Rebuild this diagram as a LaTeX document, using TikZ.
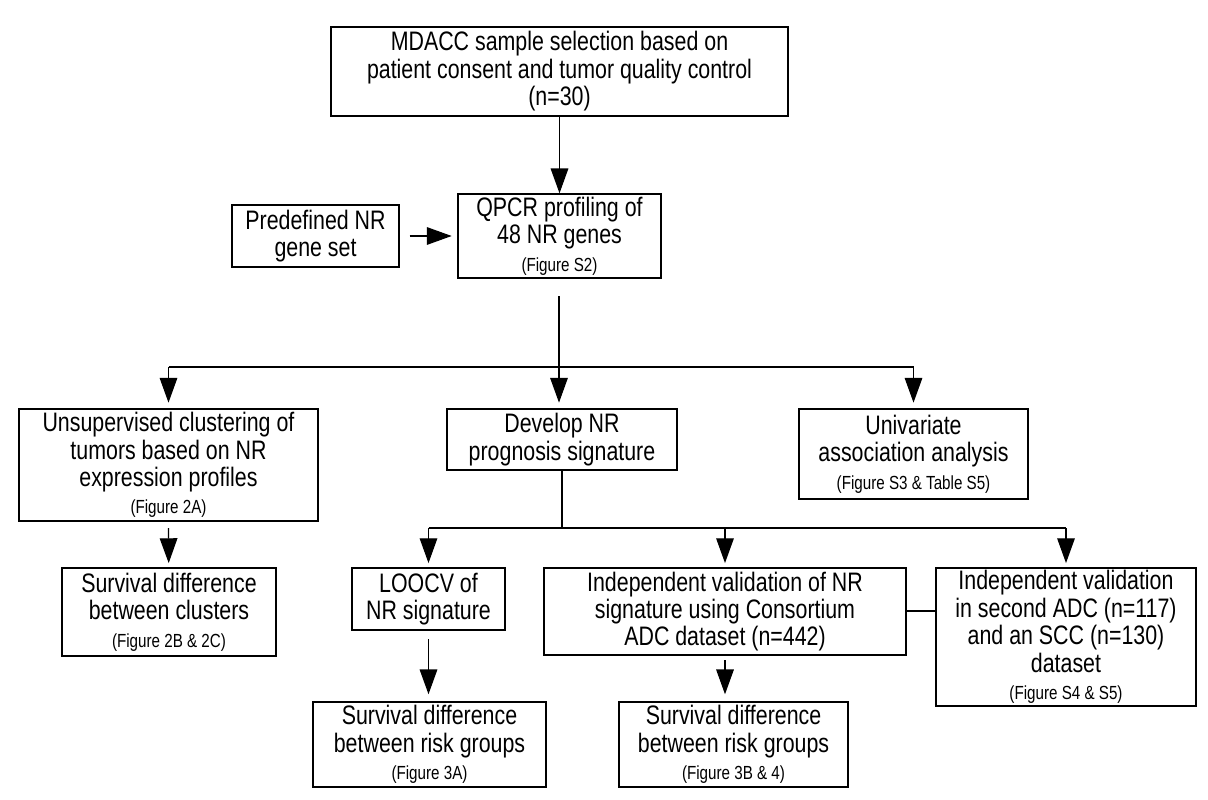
\documentclass[tikz,border=0pt]{standalone}
\usepackage{fontspec}
\setmainfont{Liberation Sans}[FakeStretch=0.8]
\usetikzlibrary{arrows.meta}
\newcommand{\fignote}[1]{{\fontsize{13.5}{15}\selectfont #1}}
\tikzset{
  box/.style={draw, line width=1pt, align=center, inner sep=0pt,
    font=\fontsize{19}{19.5}\selectfont},
  arr/.style={-{Triangle[width=4.4mm, length=6.2mm]}, line width=0.8pt},
  lin/.style={line width=0.8pt}
}
\begin{document}
\begin{tikzpicture}[x=0.025cm, y=-0.025cm]
  \useasboundingbox (0,0) rectangle (1208,800);
  \node[box, minimum width=457*0.025cm, minimum height=89*0.025cm] (mdacc) at (559.5,71.5)
    {MDACC sample selection based on\\patient consent and tumor quality control\\(n=30)};
  \node[box, minimum width=167*0.025cm, minimum height=62*0.025cm] (pre) at (315.5,236)
    {Predefined NR\\gene set};
  \node[box, minimum width=203*0.025cm, minimum height=84*0.025cm] (qpcr) at (559.5,236)
    {QPCR profiling of\\48 NR genes\\\fignote{(Figure S2)}};
  \node[box, minimum width=299*0.025cm, minimum height=112*0.025cm] (unsup) at (168.5,465)
    {Unsupervised clustering of\\tumors based on NR\\expression profiles\\\fignote{(Figure 2A)}};
  \node[box, minimum width=230*0.025cm, minimum height=61*0.025cm] (dev) at (562,439.5)
    {Develop NR\\prognosis signature};
  \node[box, minimum width=229*0.025cm, minimum height=90*0.025cm] (univ) at (913.5,454)
    {Univariate\\association analysis\\\fignote{(Figure S3 \& Table S5)}};
  \node[box, minimum width=214*0.025cm, minimum height=88*0.025cm] (survcl) at (169,612)
    {Survival difference\\between clusters\\\fignote{(Figure 2B \& 2C)}};
  \node[box, minimum width=153*0.025cm, minimum height=62*0.025cm] (loocv) at (428.5,599)
    {LOOCV of\\NR signature};
  \node[box, minimum width=362*0.025cm, minimum height=87*0.025cm] (indep) at (725,611.5)
    {Independent validation of NR\\signature using Consortium\\ADC dataset (n=442)};
  \node[box, minimum width=260*0.025cm, minimum height=138*0.025cm] (second) at (1066,637)
    {Independent validation\\in second ADC (n=117)\\and an SCC (n=130)\\dataset\\\fignote{(Figure S4 \& S5)}};
  \node[box, minimum width=233*0.025cm, minimum height=85*0.025cm] (survA) at (429.5,744.5)
    {Survival difference\\between risk groups\\\fignote{(Figure 3A)}};
  \node[box, minimum width=229*0.025cm, minimum height=85*0.025cm] (survB) at (733.5,744.5)
    {Survival difference\\between risk groups\\\fignote{(Figure 3B \& 4)}};
  \coordinate (top1) at (559,296);
  \coordinate (bar1) at (559,367);
  \coordinate (bar1l) at (168.5,367);
  \coordinate (bar1r) at (913.5,367);
  \coordinate (bar2) at (562,528);
  \coordinate (bar2l) at (428.5,528);
  \coordinate (bar2m) at (725,528);
  \coordinate (bar2r) at (1066,528);
  \coordinate (unsupb) at (168.5,528);
  \coordinate (loocvb) at (428.5,639);
  \coordinate (indepb) at (725,660);

  \draw[arr] (mdacc) -- (qpcr);
  \draw[arr, shorten <=7pt, shorten >=4pt] (pre) -- (qpcr);
  \draw[lin] (top1) -- (bar1);
  \draw[lin] (bar1l) -- (bar1r);
  \draw[arr, shorten >=4pt] (bar1l) -- (unsup);
  \draw[arr, shorten >=4pt] (bar1) -- (bar1 |- dev.north);
  \draw[arr, shorten >=4pt] (bar1r) -- (univ);
  \draw[lin] (dev) -- (bar2);
  \draw[lin] (bar2l) -- (bar2r);
  \draw[arr, shorten >=3pt] (bar2l) -- (loocv);
  \draw[arr, shorten >=3pt] (bar2m) -- (indep);
  \draw[arr, shorten >=3pt] (bar2r) -- (second);
  \draw[arr, shorten >=3pt] (unsupb) -- (survcl);
  \draw[arr, shorten >=5pt] (loocvb) -- (loocvb |- survA.north);
  \draw[arr, shorten >=5pt] (indepb) -- (indepb |- survB.north);
  \draw[lin] (indep.east |- 0,611) -- (second.west |- 0,611);
\end{tikzpicture}
\end{document}
